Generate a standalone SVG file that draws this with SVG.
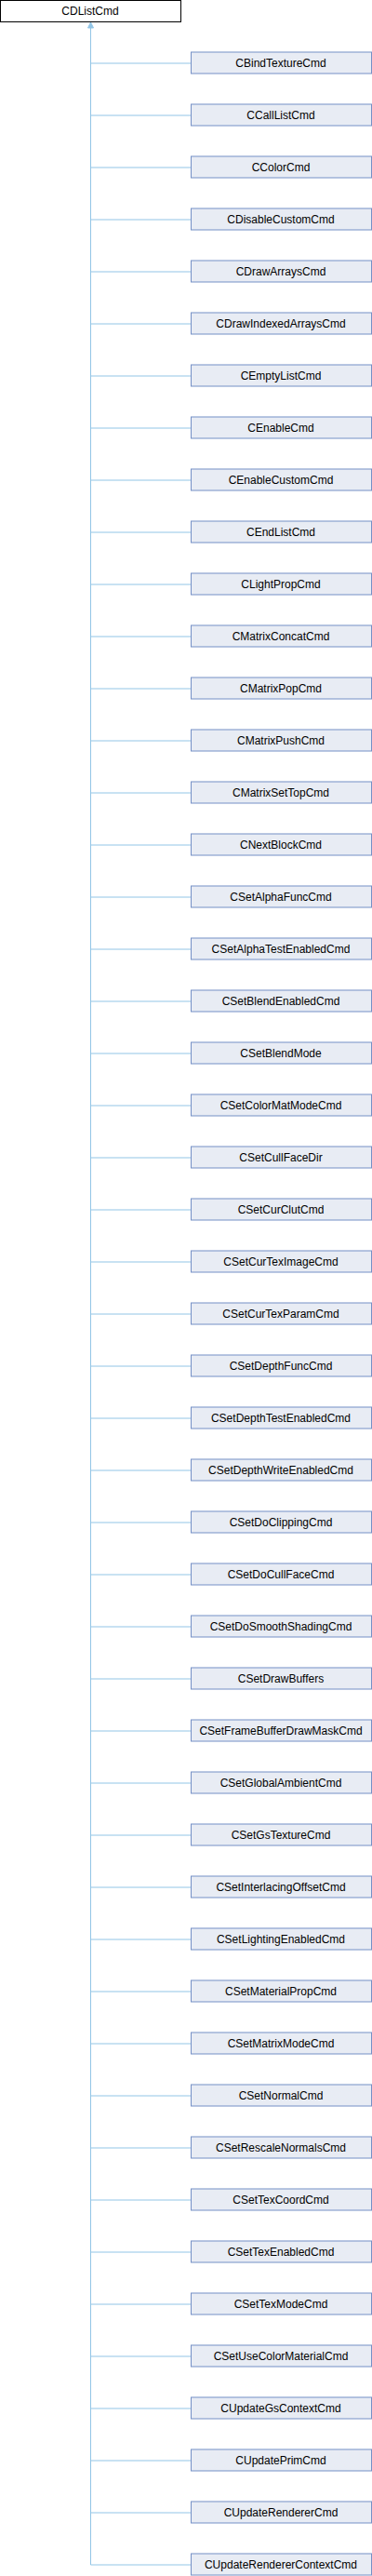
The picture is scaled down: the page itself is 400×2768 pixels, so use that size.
<svg xmlns="http://www.w3.org/2000/svg" width="400" height="2768" viewBox="0 0 400 2768">
<style>
text{font-family:"Liberation Sans",Arial,sans-serif;font-size:12px;text-anchor:middle;fill:#000}
.n rect{fill:#e8ecf4;stroke:#7590c6;stroke-width:1}
.r rect{fill:#fff;stroke:#000;stroke-width:1}
.e{stroke:#92c5e6;stroke-width:1;fill:none}
</style>
<rect width="400" height="2768" fill="#fff"/>
<g id="connectors">
<path class="e" d="M97.5 30V2756"/>
<polygon points="97.5,24 100.5,30 94.5,30" fill="#92c5e6" stroke="#92c5e6"/>
<path class="e" d="M97.5 68H205M97.5 124H205M97.5 180H205M97.5 236H205M97.5 292H205M97.5 348H205M97.5 404H205M97.5 460H205M97.5 516H205M97.5 572H205M97.5 628H205M97.5 684H205M97.5 740H205M97.5 796H205M97.5 852H205M97.5 908H205M97.5 964H205M97.5 1020H205M97.5 1076H205M97.5 1132H205M97.5 1188H205M97.5 1244H205M97.5 1300H205M97.5 1356H205M97.5 1412H205M97.5 1468H205M97.5 1524H205M97.5 1580H205M97.5 1636H205M97.5 1692H205M97.5 1748H205M97.5 1804H205M97.5 1860H205M97.5 1916H205M97.5 1972H205M97.5 2028H205M97.5 2084H205M97.5 2140H205M97.5 2196H205M97.5 2252H205M97.5 2308H205M97.5 2364H205M97.5 2420H205M97.5 2476H205M97.5 2532H205M97.5 2588H205M97.5 2644H205M97.5 2700H205M97.5 2756H205"/>
</g>
<g id="CDListCmd" class="r"><rect x="0.5" y="0.5" width="194" height="23"/><text x="97" y="16">CDListCmd</text></g>
<g id="n1" class="n"><rect x="205.5" y="56" width="194" height="23"/><text x="302" y="72">CBindTextureCmd</text></g>
<g id="n2" class="n"><rect x="205.5" y="112" width="194" height="23"/><text x="302" y="128">CCallListCmd</text></g>
<g id="n3" class="n"><rect x="205.5" y="168" width="194" height="23"/><text x="302" y="184">CColorCmd</text></g>
<g id="n4" class="n"><rect x="205.5" y="224" width="194" height="23"/><text x="302" y="240">CDisableCustomCmd</text></g>
<g id="n5" class="n"><rect x="205.5" y="280" width="194" height="23"/><text x="302" y="296">CDrawArraysCmd</text></g>
<g id="n6" class="n"><rect x="205.5" y="336" width="194" height="23"/><text x="302" y="352">CDrawIndexedArraysCmd</text></g>
<g id="n7" class="n"><rect x="205.5" y="392" width="194" height="23"/><text x="302" y="408">CEmptyListCmd</text></g>
<g id="n8" class="n"><rect x="205.5" y="448" width="194" height="23"/><text x="302" y="464">CEnableCmd</text></g>
<g id="n9" class="n"><rect x="205.5" y="504" width="194" height="23"/><text x="302" y="520">CEnableCustomCmd</text></g>
<g id="n10" class="n"><rect x="205.5" y="560" width="194" height="23"/><text x="302" y="576">CEndListCmd</text></g>
<g id="n11" class="n"><rect x="205.5" y="616" width="194" height="23"/><text x="302" y="632">CLightPropCmd</text></g>
<g id="n12" class="n"><rect x="205.5" y="672" width="194" height="23"/><text x="302" y="688">CMatrixConcatCmd</text></g>
<g id="n13" class="n"><rect x="205.5" y="728" width="194" height="23"/><text x="302" y="744">CMatrixPopCmd</text></g>
<g id="n14" class="n"><rect x="205.5" y="784" width="194" height="23"/><text x="302" y="800">CMatrixPushCmd</text></g>
<g id="n15" class="n"><rect x="205.5" y="840" width="194" height="23"/><text x="302" y="856">CMatrixSetTopCmd</text></g>
<g id="n16" class="n"><rect x="205.5" y="896" width="194" height="23"/><text x="302" y="912">CNextBlockCmd</text></g>
<g id="n17" class="n"><rect x="205.5" y="952" width="194" height="23"/><text x="302" y="968">CSetAlphaFuncCmd</text></g>
<g id="n18" class="n"><rect x="205.5" y="1008" width="194" height="23"/><text x="302" y="1024">CSetAlphaTestEnabledCmd</text></g>
<g id="n19" class="n"><rect x="205.5" y="1064" width="194" height="23"/><text x="302" y="1080">CSetBlendEnabledCmd</text></g>
<g id="n20" class="n"><rect x="205.5" y="1120" width="194" height="23"/><text x="302" y="1136">CSetBlendMode</text></g>
<g id="n21" class="n"><rect x="205.5" y="1176" width="194" height="23"/><text x="302" y="1192">CSetColorMatModeCmd</text></g>
<g id="n22" class="n"><rect x="205.5" y="1232" width="194" height="23"/><text x="302" y="1248">CSetCullFaceDir</text></g>
<g id="n23" class="n"><rect x="205.5" y="1288" width="194" height="23"/><text x="302" y="1304">CSetCurClutCmd</text></g>
<g id="n24" class="n"><rect x="205.5" y="1344" width="194" height="23"/><text x="302" y="1360">CSetCurTexImageCmd</text></g>
<g id="n25" class="n"><rect x="205.5" y="1400" width="194" height="23"/><text x="302" y="1416">CSetCurTexParamCmd</text></g>
<g id="n26" class="n"><rect x="205.5" y="1456" width="194" height="23"/><text x="302" y="1472">CSetDepthFuncCmd</text></g>
<g id="n27" class="n"><rect x="205.5" y="1512" width="194" height="23"/><text x="302" y="1528">CSetDepthTestEnabledCmd</text></g>
<g id="n28" class="n"><rect x="205.5" y="1568" width="194" height="23"/><text x="302" y="1584">CSetDepthWriteEnabledCmd</text></g>
<g id="n29" class="n"><rect x="205.5" y="1624" width="194" height="23"/><text x="302" y="1640">CSetDoClippingCmd</text></g>
<g id="n30" class="n"><rect x="205.5" y="1680" width="194" height="23"/><text x="302" y="1696">CSetDoCullFaceCmd</text></g>
<g id="n31" class="n"><rect x="205.5" y="1736" width="194" height="23"/><text x="302" y="1752">CSetDoSmoothShadingCmd</text></g>
<g id="n32" class="n"><rect x="205.5" y="1792" width="194" height="23"/><text x="302" y="1808">CSetDrawBuffers</text></g>
<g id="n33" class="n"><rect x="205.5" y="1848" width="194" height="23"/><text x="302" y="1864">CSetFrameBufferDrawMaskCmd</text></g>
<g id="n34" class="n"><rect x="205.5" y="1904" width="194" height="23"/><text x="302" y="1920">CSetGlobalAmbientCmd</text></g>
<g id="n35" class="n"><rect x="205.5" y="1960" width="194" height="23"/><text x="302" y="1976">CSetGsTextureCmd</text></g>
<g id="n36" class="n"><rect x="205.5" y="2016" width="194" height="23"/><text x="302" y="2032">CSetInterlacingOffsetCmd</text></g>
<g id="n37" class="n"><rect x="205.5" y="2072" width="194" height="23"/><text x="302" y="2088">CSetLightingEnabledCmd</text></g>
<g id="n38" class="n"><rect x="205.5" y="2128" width="194" height="23"/><text x="302" y="2144">CSetMaterialPropCmd</text></g>
<g id="n39" class="n"><rect x="205.5" y="2184" width="194" height="23"/><text x="302" y="2200">CSetMatrixModeCmd</text></g>
<g id="n40" class="n"><rect x="205.5" y="2240" width="194" height="23"/><text x="302" y="2256">CSetNormalCmd</text></g>
<g id="n41" class="n"><rect x="205.5" y="2296" width="194" height="23"/><text x="302" y="2312">CSetRescaleNormalsCmd</text></g>
<g id="n42" class="n"><rect x="205.5" y="2352" width="194" height="23"/><text x="302" y="2368">CSetTexCoordCmd</text></g>
<g id="n43" class="n"><rect x="205.5" y="2408" width="194" height="23"/><text x="302" y="2424">CSetTexEnabledCmd</text></g>
<g id="n44" class="n"><rect x="205.5" y="2464" width="194" height="23"/><text x="302" y="2480">CSetTexModeCmd</text></g>
<g id="n45" class="n"><rect x="205.5" y="2520" width="194" height="23"/><text x="302" y="2536">CSetUseColorMaterialCmd</text></g>
<g id="n46" class="n"><rect x="205.5" y="2576" width="194" height="23"/><text x="302" y="2592">CUpdateGsContextCmd</text></g>
<g id="n47" class="n"><rect x="205.5" y="2632" width="194" height="23"/><text x="302" y="2648">CUpdatePrimCmd</text></g>
<g id="n48" class="n"><rect x="205.5" y="2688" width="194" height="23"/><text x="302" y="2704">CUpdateRendererCmd</text></g>
<g id="n49" class="n"><rect x="205.5" y="2744" width="194" height="23"/><text x="302" y="2760">CUpdateRendererContextCmd</text></g>
</svg>
